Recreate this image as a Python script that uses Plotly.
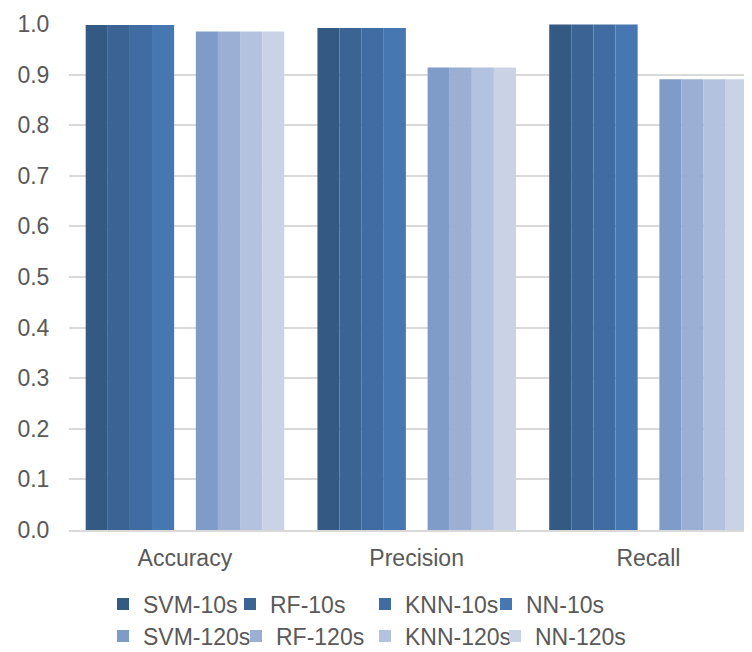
import plotly.graph_objects as go

categories = ["Accuracy", "Precision", "Recall"]
series_names = ["SVM-10s", "RF-10s", "KNN-10s", "NN-10s",
                "SVM-120s", "RF-120s", "KNN-120s", "NN-120s"]

svm_10s = [0.998, 0.992, 0.999]
rf_10s = [0.998, 0.992, 0.999]
knn_10s = [0.998, 0.992, 0.999]
nn_10s = [0.998, 0.992, 0.999]
svm_120s = [0.985, 0.914, 0.891]
rf_120s = [0.985, 0.914, 0.891]
knn_120s = [0.985, 0.914, 0.891]
nn_120s = [0.985, 0.914, 0.891]

y_tick_values = [0.0, 0.1, 0.2, 0.3, 0.4, 0.5, 0.6, 0.7, 0.8, 0.9, 1.0]

series_values = [svm_10s, rf_10s, knn_10s, nn_10s,
                 svm_120s, rf_120s, knn_120s, nn_120s]
colors = ["#345A84", "#3B6394", "#416CA1", "#4777B0",
          "#7F9BC8", "#9AAFD3", "#B3C2DE", "#CAD3E6"]

FONT = "Liberation Sans, Arial, sans-serif"
TXT = "#595959"
FS = 23

# the page body adds an 8px offset; the figure is sized to fill the rest
W, H = 744, 644
OFF = 8

bar_w = 0.0954
gap = 0.0937
start = -0.428

# legend entry positions (symbol centre x, row centre y) in window pixels
legend_sym_x = [125, 252, 387, 508, 125, 258, 387, 517]
legend_row_y = [604, 604, 604, 604, 636, 636, 636, 636]

fig = go.Figure()
layout_legends = {}
for i, (name, vals, col) in enumerate(zip(series_names, series_values, colors)):
    off = start + i * bar_w + (gap if i >= 4 else 0)
    lid = "legend" if i == 0 else f"legend{i + 1}"
    fig.add_trace(go.Bar(
        x=categories, y=vals, name=name,
        marker=dict(color=col, line=dict(width=0)),
        width=bar_w, offset=off,
        legend=lid, showlegend=True,
    ))
    layout_legends[lid] = dict(
        xref="container", yref="container",
        x=(legend_sym_x[i] - 20 - OFF - 2) / W,
        y=1 - (legend_row_y[i] - OFF) / H,
        xanchor="left", yanchor="middle",
        font=dict(family=FONT, size=FS, color=TXT),
        bgcolor="rgba(0,0,0,0)", itemwidth=30,
    )

fig.update_layout(
    width=W, height=H,
    showlegend=True,
    margin=dict(l=61.4, r=0, t=16, b=122, autoexpand=False),
    paper_bgcolor="white", plot_bgcolor="white",
    barmode="overlay",
    font=dict(family=FONT, size=FS, color=TXT),
    xaxis=dict(
        range=[-0.5, 2.447], showgrid=False, automargin=False,
        showline=True, linecolor="#d9d9d9", linewidth=1.5,
        ticks="outside", ticklen=7, tickcolor="rgba(0,0,0,0)",
        tickfont=dict(family=FONT, size=FS, color=TXT),
    ),
    yaxis=dict(
        range=[0, 1.0], tickvals=y_tick_values, tickformat=".1f",
        showgrid=True, gridcolor="#d9d9d9", gridwidth=1.5,
        zeroline=False, showline=False, automargin=False,
        ticks="outside", ticklen=14, tickcolor="rgba(0,0,0,0)",
        tickfont=dict(family=FONT, size=FS, color=TXT),
    ),
    **layout_legends,
)

fig.write_html("out.html")
